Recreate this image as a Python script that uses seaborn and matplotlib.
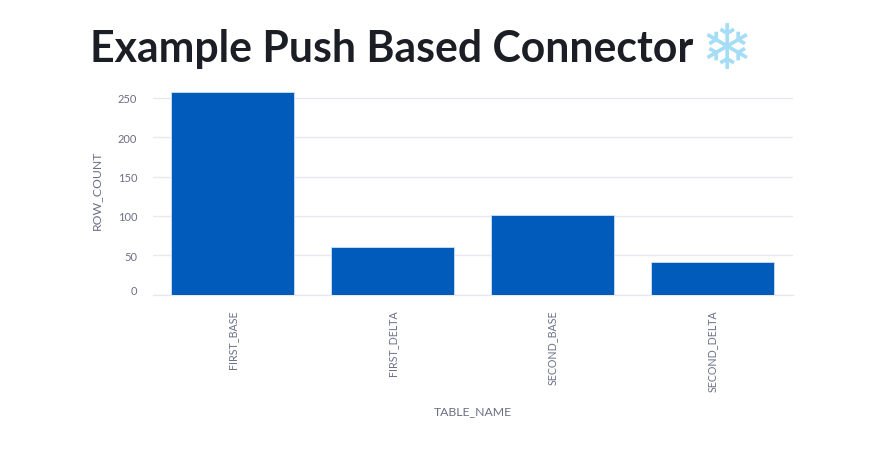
import matplotlib
matplotlib.use("Agg")
import matplotlib.pyplot as plt
import matplotlib.transforms as mtrans
import seaborn as sns
import pandas as pd

# values
table_names = ["FIRST_BASE", "FIRST_DELTA", "SECOND_BASE", "SECOND_DELTA"]
row_counts = [257, 61, 101, 41]
y_ticks = [0, 50, 100, 150, 200, 250]

BAR_COLOR = "#005BBB"
EDGE_COLOR = "#CFE0F3"
GRID_COLOR = "#E6E9F2"
TEXT_COLOR = "#6B6F85"
TITLE_COLOR = "#1C1E25"

sns.set_theme(style="white")
plt.rcParams["font.family"] = ["Lato", "DejaVu Sans"]

W, H = 869, 464
fig = plt.figure(figsize=(W / 100, H / 100), dpi=100)
ax = fig.add_axes([152.5 / W, 1 - 295.6 / H, 640 / W, (295.6 - 93.4) / H])

df = pd.DataFrame({"TABLE_NAME": table_names, "ROW_COUNT": row_counts})
sns.barplot(data=df, x="TABLE_NAME", y="ROW_COUNT", color=BAR_COLOR, saturation=1,
            width=0.77, edgecolor=EDGE_COLOR, linewidth=0.6, zorder=3, ax=ax)

ax.set_xlim(-0.5, 3.5)
ax.set_ylim(0, 257)
ax.set_yticks(y_ticks)
ax.grid(axis="y", color=GRID_COLOR, linewidth=1, zorder=0)
ax.set_axisbelow(True)
sns.despine(ax=ax, left=True, top=True, right=True)
ax.spines["bottom"].set_color(GRID_COLOR)
ax.spines["bottom"].set_linewidth(1)

ax.tick_params(axis="x", length=0, pad=10.5, labelsize=7.7, labelcolor=TEXT_COLOR, rotation=90)
ax.tick_params(axis="y", length=0, pad=11, labelsize=8, labelcolor=TEXT_COLOR)

# the zero label sits a little above the axis line
zero_label = ax.get_yticklabels()[0]
zero_label.set_transform(zero_label.get_transform() + mtrans.ScaledTranslation(0, 5 / 100, fig.dpi_scale_trans))

ax.set_xlabel("TABLE_NAME", fontsize=8.8, color=TEXT_COLOR, labelpad=0)
ax.set_ylabel("ROW_COUNT", fontsize=8.8, color=TEXT_COLOR, labelpad=0)
ax.xaxis.set_label_coords(473 / W, 1 - 412 / H, transform=fig.transFigure)
ax.xaxis.label.set_va("center")
ax.yaxis.set_label_coords(96.5 / W, 1 - 190 / H, transform=fig.transFigure)
ax.yaxis.label.set_va("center")

fig.text(90 / W, 1 - 62 / H, "Example Push Based Connector", fontsize=30.8, fontweight="bold",
         color=TITLE_COLOR, ha="left", va="baseline")
fig.text(727 / W, 1 - 52 / H, "\u2744", fontsize=45, color="#A5DDF7", ha="center", va="center",
         family="DejaVu Sans")

fig.savefig("out.png", dpi=100, facecolor="white")
